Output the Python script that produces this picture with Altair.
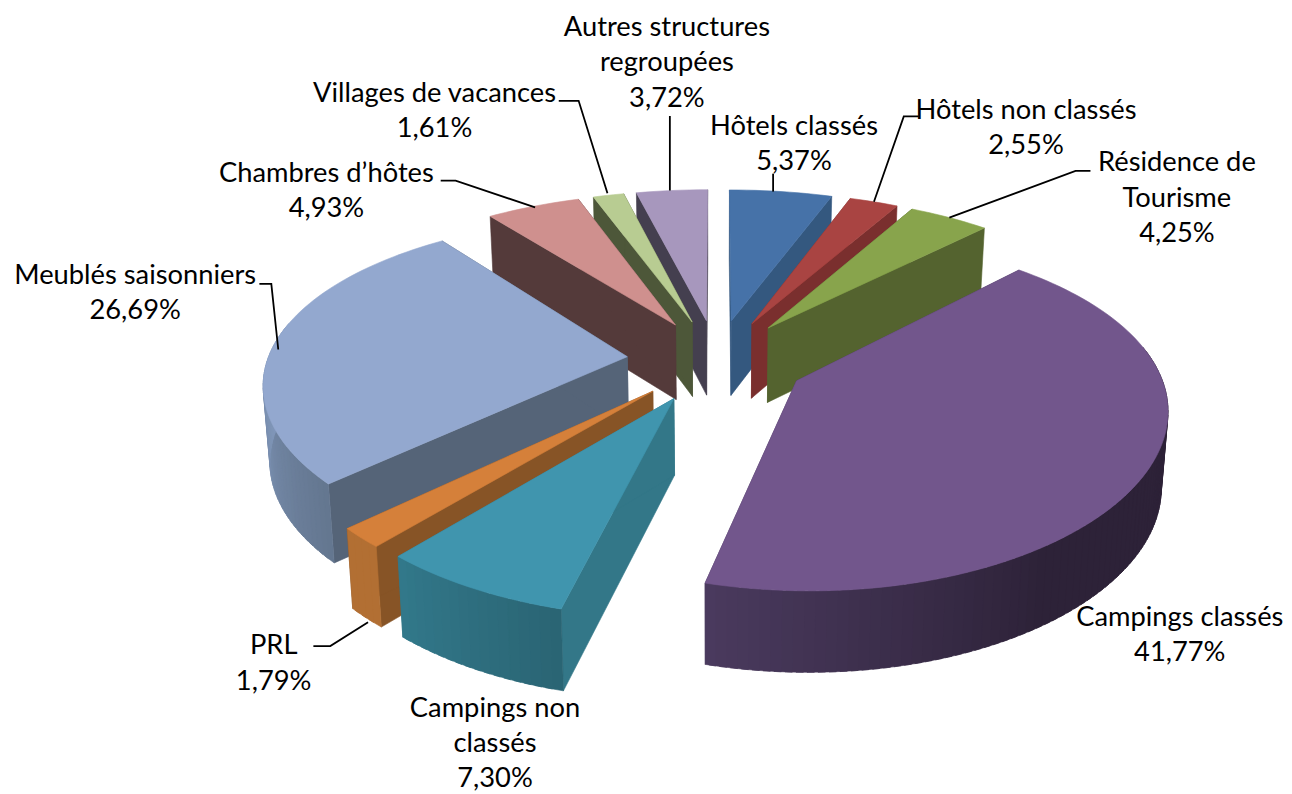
import math
import altair as alt
import pandas as pd

# ---- data
categories = ["Hôtels classés", "Hôtels non classés", "Résidence de\nTourisme", "Campings classés",
              "Campings non\nclassés", "PRL", "Meublés saisonniers", "Chambres d’hôtes",
              "Villages de vacances", "Autres structures\nregroupées"]
shares = [5.37, 2.55, 4.25, 41.77, 7.30, 1.79, 26.69, 4.93, 1.61, 3.72]
value_labels = ["5,37%", "2,55%", "4,25%", "41,77%", "7,30%", "1,79%", "26,69%", "4,93%", "1,61%", "3,72%"]

# ---- styles
top_colors = ["#4672A8", "#A94442", "#88A44C", "#72568C", "#4095AE", "#D5803A", "#93A8CF", "#CF908E", "#B8CC92", "#A797BD"]
side_colors = ["#34587F", "#7A2F2E", "#54632F", "#4A3A5E", "#337788", "#875426", "#556478", "#543A3A", "#4D5739", "#443F4F"]
wall_from = ["#34587F", "#7A2F2E", "#54632F", "#2D2238", "#2A6473", "#B26F33", "#64768F", "#543A3A", "#4D5739", "#443F4F"]
wall_to = ["#34587F", "#7A2F2E", "#54632F", "#4A3A5E", "#32788A", "#B26F33", "#8298BB", "#543A3A", "#4D5739", "#443F4F"]
# angles between which each slice's rim wall shades from wall_from to wall_to
wall_ramp = [(0, 1), (0, 1), (0, 1), (145, 194), (194, 220), (220, 227), (227, 272), (0, 1), (0, 1), (0, 1)]
# text centre and leader polyline, as offsets from the middle of each slice's rim
label_offsets = [(13, -47), (153, -74), (229, -19), (34, 164), (23, 157),
                 (-88, 127), (-141, -49), (-208, -15), (-175, -84), (-5, -128)]
leader_offsets = [[(-8, 0), (-8, -18)],
                  [(0, 0), (30, -86), (45, -86)],
                  [(0, 0), (127, -47), (142, -47)],
                  [], [],
                  [(7, 85), (-31, 109), (-48, 109)],
                  [(3, 7), (-4, -59), (-16, -59)],
                  [(2, 1), (-78, -26), (-93, -26)],
                  [(-1, -2), (-30, -95), (-50, -95)],
                  [(-2, 0), (-2, -75)]]
FIT = 0.9938
LINE_HEIGHT = 35.5 * FIT

# ---- 3D view
CX, CY, R, A, DEPTH = 713 * FIT, 354.5 * FIT, 362 * FIT, 167 * FIT, 76 * FIT
K, KX, EXPLODE, KZ, SHRINK = 0.172, 0.139, 0.25, 0.065, 0.985


def project(theta, mid, radius=1.0, bottom=False):
    t, m = math.radians(theta), math.radians(mid)
    X = radius * math.sin(t) + EXPLODE * math.sin(m)
    Y = radius * math.cos(t) + EXPLODE * math.cos(m)
    x = R * X / (1 + KX * Y)
    y = -A * Y / (1 + K * Y)
    if bottom:
        x *= SHRINK
        y += DEPTH / (1 + KZ * Y)
    return [CX + x, CY + y]


def mix(c1, c2, f):
    a = [int(c1[i:i + 2], 16) for i in (1, 3, 5)]
    b = [int(c2[i:i + 2], 16) for i in (1, 3, 5)]
    return "#%02x%02x%02x" % tuple(round(p + (q - p) * f) for p, q in zip(a, b))


def poly(points, color):
    ring = points + [points[0]]
    return {"type": "Feature", "properties": {"color": color},
            "geometry": {"type": "Polygon", "coordinates": [ring]}}


total = sum(shares)
starts, acc = [], 0.0
for v in shares:
    starts.append(acc)
    acc += v * 360 / total

features = []
mids = []
for i, v in enumerate(shares):
    mids.append(starts[i] + v * 180 / total)

draw_order = sorted(range(len(shares)), key=lambda j: -math.cos(math.radians(mids[j])))
for i in draw_order:
    t0, t1, mid = starts[i], starts[i] + shares[i] * 360 / total, mids[i]
    n = max(2, int((t1 - t0) / 1.5))
    angles = [t0 + (t1 - t0) * j / n for j in range(n + 1)]
    for t in (t0, t1):
        features.append(poly([project(0, mid, 0), project(t, mid), project(t, mid, 1, True), project(0, mid, 0, True)],
                             side_colors[i]))
    for a, b in zip(angles[:-1], angles[1:]):
        c = (a + b) / 2
        if math.cos(math.radians(c)) < 0.2:
            r0, r1 = wall_ramp[i]
            f = min(1, max(0, (c - r0) / (r1 - r0)))
            # each strip runs under the next one, so that no seam shows between them
            e = min(b + 1.0, t1)
            features.append(poly([project(a, mid), project(e, mid), project(e, mid, 1, True), project(a, mid, 1, True)],
                                 mix(wall_from[i], wall_to[i], f)))
    features.append(poly([project(0, mid, 0)] + [project(t, mid) for t in angles], top_colors[i]))

lines = []
rows = []
for i, name in enumerate(categories):
    rim = project(mids[i], mids[i])
    text = name + "\n" + value_labels[i]
    shift = text.count("\n") * LINE_HEIGHT / 2
    rows.append({"x": rim[0] + label_offsets[i][0] * FIT, "y": rim[1] + label_offsets[i][1] * FIT - shift, "label": text})
    if leader_offsets[i]:
        lines.append({"type": "Feature", "properties": {},
                      "geometry": {"type": "LineString",
                                   "coordinates": [[rim[0] + dx * FIT, rim[1] + dy * FIT] for dx, dy in leader_offsets[i]]}})

proj = dict(type="identity", scale=1, translate=[0, 0])
fc = lambda fs: alt.InlineData(values={"type": "FeatureCollection", "features": fs},
                               format=alt.DataFormat(property="features", type="json"))

slices = alt.Chart(fc(features)).mark_geoshape(strokeWidth=0.6).encode(
    fill=alt.Fill("properties.color:N", scale=None, legend=None),
    stroke=alt.Stroke("properties.color:N", scale=None, legend=None),
).project(**proj)
leaders = alt.Chart(fc(lines)).mark_geoshape(filled=False, stroke="#000000", strokeWidth=1.8).project(**proj)
texts = alt.Chart(pd.DataFrame(rows)).mark_text(
    font="Lato", fontSize=27.3, lineBreak="\n", lineHeight=LINE_HEIGHT, align="center", baseline="middle", color="#000000"
).encode(longitude="x:Q", latitude="y:Q", text="label:N").project(**proj)

chart = alt.layer(slices, leaders, texts).properties(
    width=1276, height=786, padding=0, autosize="none", background="#ffffff"
).configure_view(stroke=None)
chart.save("out.html", embed_options={"renderer": "svg", "actions": False})
